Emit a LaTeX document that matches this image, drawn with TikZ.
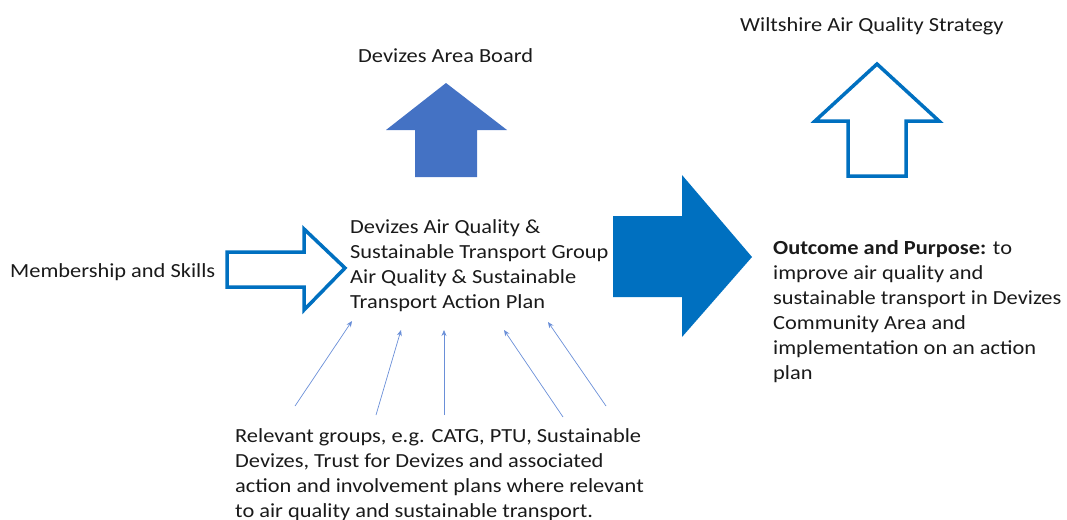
\documentclass[tikz,border=0pt]{standalone}
\usepackage{fontspec}
\setmainfont{Carlito}[FakeStretch=1.12]
\usetikzlibrary{arrows.meta}
\definecolor{txt}{HTML}{1A1A1A}
\definecolor{darkblue}{HTML}{0070C0}
\definecolor{midblue}{HTML}{4472C4}
\definecolor{thinblue}{HTML}{6A8FD8}
\tikzset{
  lbl/.style={inner sep=0pt, text=txt, font=\fontsize{20}{25}\selectfont, align=left},
  outarrow/.style={draw=darkblue, line width=3.5pt, miter limit=10, fill=white},
  thinarrow/.style={draw=thinblue, line width=0.7pt, -{Stealth[length=6pt,width=5pt]}},
}
\begin{document}
\begin{tikzpicture}[x=1pt,y=-1pt]
\useasboundingbox (0,0) rectangle (1067,519);
% filled up arrow (Devizes Area Board)
\fill[midblue] (446,83) -- (507,130) -- (477,130) -- (477,177) -- (415,177) -- (415,130) -- (386,130) -- cycle;
% outline up arrow (Wiltshire)
\draw[outarrow] (877,64) -- (939,121) -- (906,121) -- (906,176) -- (848,176) -- (848,121) -- (815,121) -- cycle;
% big filled right arrow
\fill[darkblue] (752,257) -- (682,337) -- (682,297) -- (613,297) -- (613,216) -- (682,216) -- (682,175) -- cycle;
% outline right arrow (Membership)
\draw[outarrow] (345,268) -- (304,310) -- (304,287) -- (227,287) -- (227,252) -- (304,252) -- (304,229) -- cycle;

\node[lbl, anchor=base west] (board) at (358,63) {Devizes Area Board};
\node[lbl, anchor=base west] (wilts) at (740,32) {Wiltshire Air Quality Strategy};
\node[lbl, anchor=base west] (member) at (10,277) {Membership and Skills};
\node[lbl, anchor=base west] (group) at (350,308) {Devizes Air Quality \&\\Sustainable Transport Group\\Air Quality \& Sustainable\\Transport Action Plan};
\node[lbl, anchor=base west] (outcome) at (773,379) {\textbf{Outcome and Purpose:} to\\improve air quality and\\sustainable transport in Devizes\\Community Area and\\implementation on an action\\plan};
\node[lbl, anchor=base west] (groups) at (235,517) {Relevant groups, e.g. CATG, PTU, Sustainable\\Devizes, Trust for Devizes and associated\\action and involvement plans where relevant\\to air quality and sustainable transport.};

\coordinate (s1) at (295,406); \coordinate (e1) at (352,321);
\coordinate (s2) at (376,415); \coordinate (e2) at (401,330);
\coordinate (s3) at (444,415); \coordinate (e3) at (444,330);
\coordinate (s4) at (563,417); \coordinate (e4) at (504,330);
\coordinate (s5) at (606,406); \coordinate (e5) at (548,322);
\foreach \i in {1,...,5} \draw[thinarrow] (s\i) -- (e\i);
\end{tikzpicture}
\end{document}
